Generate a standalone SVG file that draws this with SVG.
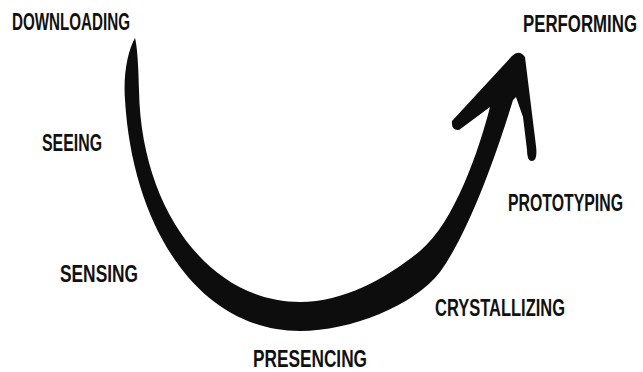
<svg xmlns="http://www.w3.org/2000/svg" width="643" height="372" viewBox="0 0 643 372">
<style>
.lbl{font-family:"Liberation Sans",Arial,sans-serif;font-weight:bold;font-size:17px;fill:#111;}
.u{fill:#0d0d0d;stroke:none;}
</style>
<rect width="643" height="372" fill="#ffffff"/>
<g id="connectors">
<path class="u" d="M135,38 C137,45 138.5,64 139,90 C141,210 210,302 300,302 C345,302 389,276.6 420,251 C454.7,222.2 479,150 490,107 L459,130 Q451,131 452,121 L512,56 Q519,49 525,57 L536,146 Q538,162 531,161 Q527,160 527,150 L523,117 L516,97 L513,100 C501.4,138.4 472,228 440,272 C414,306 350,331 300,331 C200,331 133,230 125,100 C123,74 128,50 135,38 Z"/>
</g>
<g id="downloading"><text class="lbl" transform="translate(12,30) scale(1,1.4)" textLength="118" lengthAdjust="spacingAndGlyphs">DOWNLOADING</text></g>
<g id="seeing"><text class="lbl" transform="translate(42,151) scale(1,1.4)" textLength="60" lengthAdjust="spacingAndGlyphs">SEEING</text></g>
<g id="sensing"><text class="lbl" transform="translate(60,282) scale(1,1.4)" textLength="78" lengthAdjust="spacingAndGlyphs">SENSING</text></g>
<g id="presencing"><text class="lbl" transform="translate(253,367) scale(1,1.4)" textLength="114" lengthAdjust="spacingAndGlyphs">PRESENCING</text></g>
<g id="crystallizing"><text class="lbl" transform="translate(435,316) scale(1,1.4)" textLength="130" lengthAdjust="spacingAndGlyphs">CRYSTALLIZING</text></g>
<g id="prototyping"><text class="lbl" transform="translate(508,211) scale(1,1.4)" textLength="115" lengthAdjust="spacingAndGlyphs">PROTOTYPING</text></g>
<g id="performing"><text class="lbl" transform="translate(523,32) scale(1,1.4)" textLength="114" lengthAdjust="spacingAndGlyphs">PERFORMING</text></g>
</svg>
